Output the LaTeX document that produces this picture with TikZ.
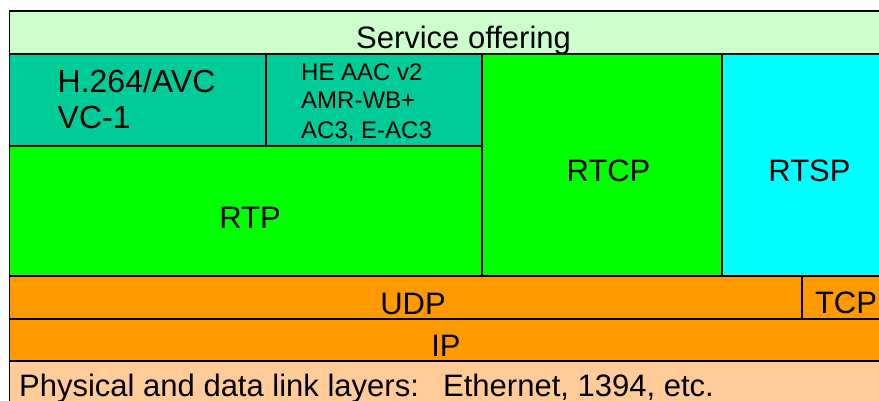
\documentclass[tikz,border=0pt]{standalone}
\usepackage{fontspec}
\setmainfont{Liberation Sans}
\definecolor{svc}{HTML}{CCFFCC}
\definecolor{codec}{HTML}{00CC99}
\definecolor{grn}{HTML}{00FF00}
\definecolor{cyn}{HTML}{00FFFF}
\definecolor{org}{HTML}{FF9900}
\definecolor{peach}{HTML}{FFCC99}
\tikzset{
  layer/.style={draw=black, line width=1.4pt},
  big/.style={inner sep=0pt, font=\fontsize{31}{31}\selectfont},
  mid/.style={inner sep=0pt, font=\fontsize{32}{32}\selectfont},
  small/.style={inner sep=0pt, font=\fontsize{24}{24}\selectfont}
}
\begin{document}
\begin{tikzpicture}[x=1pt,y=-1pt]
\useasboundingbox (0,0) rectangle (879,400);
\clip (0,0) rectangle (879,400);
% layers
\filldraw[layer, fill=svc]   (9.5,11)  rectangle (900,54);
\filldraw[layer, fill=codec] (9.5,54)  rectangle (266,146);
\filldraw[layer, fill=codec] (266,54)  rectangle (482,146);
\filldraw[layer, fill=grn]   (9.5,146) rectangle (482,276);
\filldraw[layer, fill=grn]   (482,54)  rectangle (722,276);
\filldraw[layer, fill=cyn]   (722,54)  rectangle (900,276);
\filldraw[layer, fill=org]   (9.5,276) rectangle (802,319);
\filldraw[layer, fill=org]   (802,276) rectangle (900,319);
\filldraw[layer, fill=org]   (9.5,319) rectangle (900,361);
\filldraw[layer, fill=peach] (9.5,361) rectangle (900,420);
% labels
\node[big, anchor=base] (svc) at (463.5,48) {Service offering};
\node[mid, anchor=base west] (h264) at (57.5,92) {H.264/AVC};
\node[mid, anchor=base west] (vc1) at (57.5,128) {VC-1};
\node[small, anchor=base west] (heaac) at (301,80.7) {HE AAC v2};
\node[small, anchor=base west] (amr) at (301,108.3) {AMR-WB+};
\node[small, anchor=base west] (ac3) at (301,138.3) {AC3, E-AC3};
\node[big, anchor=base] (rtp) at (250,228) {RTP};
\node[big, anchor=base] (rtcp) at (608.5,181) {RTCP};
\node[big, anchor=base] (rtsp) at (809.5,181) {RTSP};
\node[big, anchor=base] (udp) at (413,314) {UDP};
\node[big, anchor=base] (tcp) at (846,313) {TCP};
\node[big, anchor=base] (ip) at (446,356) {IP};
\node[big, anchor=base west] (phys) at (19,396) {Physical and data link layers:};
\node[big, anchor=base west] (eth) at (443,396) {Ethernet, 1394, etc.};
\end{tikzpicture}
\end{document}
